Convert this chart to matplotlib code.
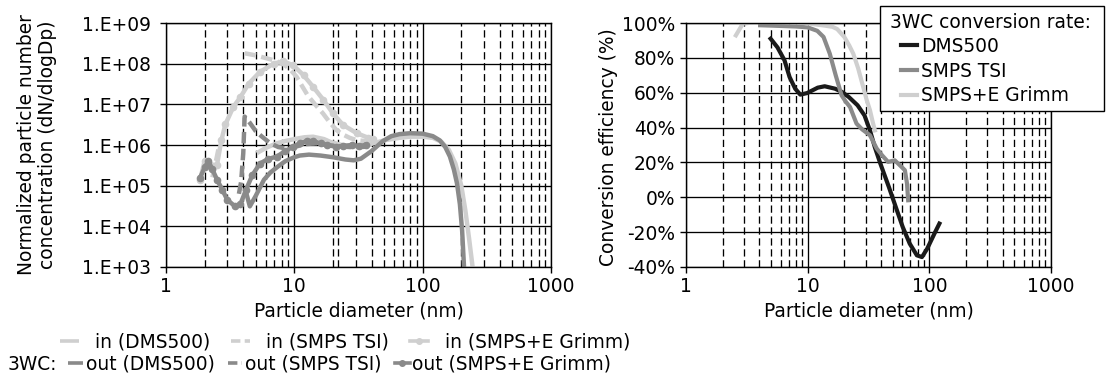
import numpy as np
import matplotlib
matplotlib.use("Agg")
import matplotlib.pyplot as plt
from matplotlib.ticker import LogLocator, NullLocator, FixedLocator, NullFormatter
from matplotlib.patches import Rectangle

plt.rcParams['font.family'] = ['DejaVu Sans']
FS = 13.4
plt.rcParams['font.size'] = FS

# ---------------- data: left panel (size distributions) ----------------
nan = np.nan
d_in_dms = [5.1, 6, 7.3, 8.5, 10, 12, 14, 17, 19, 22, 25.6, 30, 35, 40, 50, 66, 80, 100, 120, 140, 160, 180, 200, 215, 230, 245]
n_in_dms = [6.3e5, 8.5e5, 1.1e6, 1.25e6, 1.4e6, 1.55e6, 1.6e6, 1.4e6, 1.2e6, 1.05e6, 9.5e5, 9.3e5, 9.8e5, 1.07e6, 1.3e6,
            1.5e6, 1.6e6, 1.6e6, 1.5e6, 1.2e6, 7.6e5, 3.5e5, 1.0e5, 2.5e4, 5.0e3, 1.0e3]

d_in_tsi = [2.3, 2.45, 2.6, nan, 4.1, 5.0, 6.1, 7.0, 8.1, 9.2, 10.4, 11.5, 12.8, 14.5, 16.7, 19, 21.4, 24, 27, 31, 36]
n_in_tsi = [1.6e5, 4.0e5, 1.0e6, nan, 1.8e8, 1.6e8, 1.35e8, 1.2e8, 1.0e8, 7.4e7, 4.8e7, 2.8e7, 1.6e7, 1.0e7, 6.0e6,
            3.5e6, 2.3e6, 1.8e6, 1.5e6, 1.3e6, 1.25e6]

d_in_grimm = [1.84, 2.0, 2.2, 2.5, 2.7, 2.9, 3.35, 3.8, 4.4, 5.4, 6.9, 8.2, 9.8, 11.8, 14, 16.8, 20, 24, 30.6, 37.8, 41]
n_in_grimm = [1.4e5, 4.0e5, 3.2e5, 3.3e5, 1.3e6, 3.2e6, 8.7e6, 1.5e7, 3.2e7, 6.3e7, 1.0e8, 1.15e8, 9.1e7, 5.2e7, 2.7e7,
              1.3e7, 6.0e6, 3.1e6, 1.95e6, 1.5e6, 1.4e6]

d_out_dms = [4.2, 4.5, 5.0, 5.8, 6.5, 7.5, 8.5, 10, 11, 13, 16, 20, 25, 29, 33, 40, 49, 57, 66, 80, 100, 120, 136, 150,
             163, 175, 185, 195, 203, 210]
n_out_dms = [7.0e4, 3.1e4, 5.6e4, 1.4e5, 2.1e5, 3.0e5, 4.0e5, 5.0e5, 5.5e5, 5.8e5, 5.5e5, 5.0e5, 4.4e5, 4.2e5, 4.6e5,
             7.1e5, 1.25e6, 1.65e6, 1.85e6, 1.95e6, 1.9e6, 1.65e6, 1.3e6, 8.9e5, 5.2e5, 2.5e5, 1.15e5, 3.5e4, 7.9e3, 1.0e3]

d_out_tsi = [3.7, 3.85, 4.0, 4.1, 4.5, 5.0, 5.6, 6.5, 7.5, 8.5, 10, 12, 15, 18, 22, 27, 32, 37]
n_out_tsi = [6.3e4, 1.25e5, 6.3e5, 5.0e6, 3.5e6, 2.2e6, 1.6e6, 1.1e6, 8.9e5, 8.3e5, 8.9e5, 1.05e6, 1.1e6, 1.0e6, 9.3e5,
             8.9e5, 8.9e5, 9.1e5]

d_out_grimm = [1.84, 2.0, 2.14, 2.3, 2.5, 2.75, 3.0, 3.45, 3.8, 4.2, 4.7, 5.4, 6.2, 7.3, 8.5, 9.8, 11, 12.5, 14, 16, 18,
               21, 24, 28, 32, 36]
n_out_grimm = [1.55e5, 2.8e5, 4.0e5, 2.5e5, 1.4e5, 7.9e4, 4.5e4, 3.1e4, 3.5e4, 7.9e4, 1.8e5, 3.5e5, 4.5e5, 5.2e5, 7.1e5,
               9.1e5, 1.1e6, 1.25e6, 1.25e6, 1.1e6, 1.0e6, 9.1e5, 9.5e5, 1.0e6, 9.5e5, 1.0e6]

left_labels_in = ["in (DMS500)", "in (SMPS TSI)", "in (SMPS+E Grimm)"]
left_labels_out = ["out (DMS500)", "out (SMPS TSI)", "out (SMPS+E Grimm)"]

# ---------------- data: right panel (conversion efficiency) ----------------
d_eff_dms = [4.96, 5.65, 6.45, 7.1, 7.9, 8.7, 9.9, 12.1, 13.8, 16.8, 19.2, 21.8, 25.7, 29.3, 32.5, 35.6, 39.6, 46.5, 53,
             60.4, 69, 79, 87, 96, 110, 121]
v_eff_dms = [91, 86, 78.6, 69, 62.3, 58.9, 59.8, 62.9, 63.7, 62.3, 60.4, 57.5, 52.8, 47, 38.4, 28.9, 19.3, 5.9, -5.6,
             -17, -26.6, -33.3, -34.3, -29.5, -20.9, -15.1]

d_eff_tsi = [4.07, 5, 6, 8, 10, 12, 13.5, 15.2, 17, 19, 20.5, 22.3, 25.2, 28, 32.5, 36.9, 41, 45.8, 52, 58, 63, 65.5, 67]
v_eff_tsi = [98.7, 98.5, 98.3, 98, 97.5, 95.5, 92, 82.4, 70, 58.5, 55, 51.8, 42.3, 39, 35.6, 28, 24, 20.3, 21.2, 18,
             15.5, 8, -1.7]

d_eff_grimm = [2.57, 2.93, 3.68, 5, 7, 9.3, 11.5, 13.8, 16, 17.5, 20, 22, 23.7, 26, 28.6, 30.5, 32.5, 34.3, 35.7]
v_eff_grimm = [92.9, 99.6, 100.5, 100.5, 100.3, 100, 99.2, 98.5, 97.8, 96.5, 92, 87, 82.4, 74, 63.3, 56, 50, 43, 38.4]

right_labels = ["DMS500", "SMPS TSI", "SMPS+E Grimm"]
right_title = "3WC conversion rate:"

x_ticks = [1, 10, 100, 1000]
x_ticklabels = ["1", "10", "100", "1000"]
y1_ticks = [1e3, 1e4, 1e5, 1e6, 1e7, 1e8, 1e9]
y1_ticklabels = ["1.E+03", "1.E+04", "1.E+05", "1.E+06", "1.E+07", "1.E+08", "1.E+09"]
y2_ticks = [-40, -20, 0, 20, 40, 60, 80, 100]
y2_ticklabels = ["-40%", "-20%", "0%", "20%", "40%", "60%", "80%", "100%"]

LIGHT = "#cfcfcf"
MID = "#8a8a8a"
DARK = "#1a1a1a"

W, H = 1106, 378
fig = plt.figure(figsize=(W / 100, H / 100), dpi=100)
ax1 = fig.add_axes([166 / W, 1 - 267 / H, 385 / W, 244 / H])
ax2 = fig.add_axes([686 / W, 1 - 267 / H, 365 / W, 244 / H])

DASH_GRID = (0, (5.5, 2.8))


def style_axes(ax):
    ax.set_xscale("log")
    ax.set_xlim(1, 1000)
    ax.xaxis.set_major_locator(FixedLocator(x_ticks))
    ax.set_xticklabels(x_ticklabels)
    ax.xaxis.set_minor_locator(LogLocator(base=10, subs=range(2, 10), numticks=20))
    ax.xaxis.set_minor_formatter(NullFormatter())
    ax.grid(which="major", color="black", lw=0.95, ls="-")
    ax.grid(which="minor", axis="x", color="black", lw=0.95, ls=DASH_GRID)
    ax.set_axisbelow(True)
    for s in ax.spines.values():
        s.set_color("black")
        s.set_linewidth(1.0)
    ax.tick_params(which="minor", length=0)
    ax.tick_params(which="major", direction="out", length=4.5, width=1.0, labelsize=FS, color="black")
    ax.tick_params(axis="x", which="major", pad=3)
    ax.set_xlabel("Particle diameter (nm)", fontsize=FS, labelpad=4)


# ---- left panel ----
style_axes(ax1)
ax1.set_yscale("log")
ax1.set_ylim(1e3, 1e9)
ax1.yaxis.set_major_locator(FixedLocator(y1_ticks))
ax1.set_yticklabels(y1_ticklabels)
ax1.yaxis.set_minor_locator(NullLocator())
ax1.tick_params(axis="y", which="major", pad=6.5)
ax1.axvline(22, color="black", lw=0.95, ls=DASH_GRID, zorder=0.5)

LW = 3.2
MS = 4.5
h_in_dms, = ax1.plot(d_in_dms, n_in_dms, color=LIGHT, lw=LW, solid_capstyle="butt")
h_in_tsi, = ax1.plot(d_in_tsi, n_in_tsi, color=LIGHT, lw=LW, ls=(0, (2.6, 1.2)))
h_in_grimm, = ax1.plot(d_in_grimm, n_in_grimm, color=LIGHT, lw=LW, marker="o", ms=MS, mec=LIGHT, mfc=LIGHT)
h_out_dms, = ax1.plot(d_out_dms, n_out_dms, color=MID, lw=LW, solid_capstyle="butt")
h_out_tsi, = ax1.plot(d_out_tsi, n_out_tsi, color=MID, lw=LW, ls=(0, (2.6, 1.2)))
h_out_grimm, = ax1.plot(d_out_grimm, n_out_grimm, color=MID, lw=LW, marker="o", ms=MS, mec=MID, mfc=MID)

fig.text(37 / W, 1 - 145 / H, "Normalized particle number\nconcentration (dN/dlogDp)",
         rotation=90, ha="center", va="center", multialignment="center", linespacing=1.1, fontsize=FS)

# bottom legend rows
leg1 = fig.legend([h_in_dms, h_in_tsi, h_in_grimm], left_labels_in, loc="center left",
                  bbox_to_anchor=(60 / W, 1 - 342 / H), ncol=3, frameon=False, borderpad=0, borderaxespad=0,
                  handlelength=1.0, handletextpad=0.9, columnspacing=1.1, fontsize=FS)
fig.text(8 / W, 1 - 364 / H, "3WC:", ha="left", va="center", fontsize=FS)
leg2 = fig.legend([h_out_dms, h_out_tsi, h_out_grimm], left_labels_out, loc="center left",
                  bbox_to_anchor=(68 / W, 1 - 364 / H), ncol=3, frameon=False, borderpad=0, borderaxespad=0,
                  handlelength=0.8, handletextpad=0.15, columnspacing=0.7, fontsize=FS)
for lg in (leg1, leg2):
    for ln in lg.get_lines():
        ln.set_linewidth(2.6)
        ln.set_markersize(4)

# ---- right panel ----
style_axes(ax2)
ax2.set_ylim(-40, 100)
ax2.yaxis.set_major_locator(FixedLocator(y2_ticks))
ax2.set_yticklabels(y2_ticklabels)
ax2.tick_params(axis="y", which="major", pad=3.5)

LW2 = 3.0
r_dms, = ax2.plot(d_eff_dms, v_eff_dms, color=DARK, lw=LW2)
r_tsi, = ax2.plot(d_eff_tsi, v_eff_tsi, color=MID, lw=LW2)
r_grimm, = ax2.plot(d_eff_grimm, v_eff_grimm, color=LIGHT, lw=LW2)

fig.text(609 / W, 1 - 147 / H, "Conversion efficiency (%)", rotation=90, ha="center", va="center", fontsize=FS)

box = Rectangle((880 / W, 1 - 111 / H), (1104 - 880) / W, 105 / H, transform=fig.transFigure,
                facecolor="white", edgecolor="black", lw=1.0, zorder=5)
fig.add_artist(box)
t = fig.text(890 / W, 1 - 22 / H, right_title, ha="left", va="center", fontsize=FS, zorder=6)
leg3 = fig.legend([r_dms, r_tsi, r_grimm], right_labels, loc="upper left",
                  bbox_to_anchor=(901 / W, 1 - 37 / H), frameon=False, borderpad=0, borderaxespad=0,
                  handlelength=0.85, handletextpad=0.25, labelspacing=0.3, fontsize=FS)
leg3.set_zorder(6)

fig.savefig("out.png", dpi=100)
